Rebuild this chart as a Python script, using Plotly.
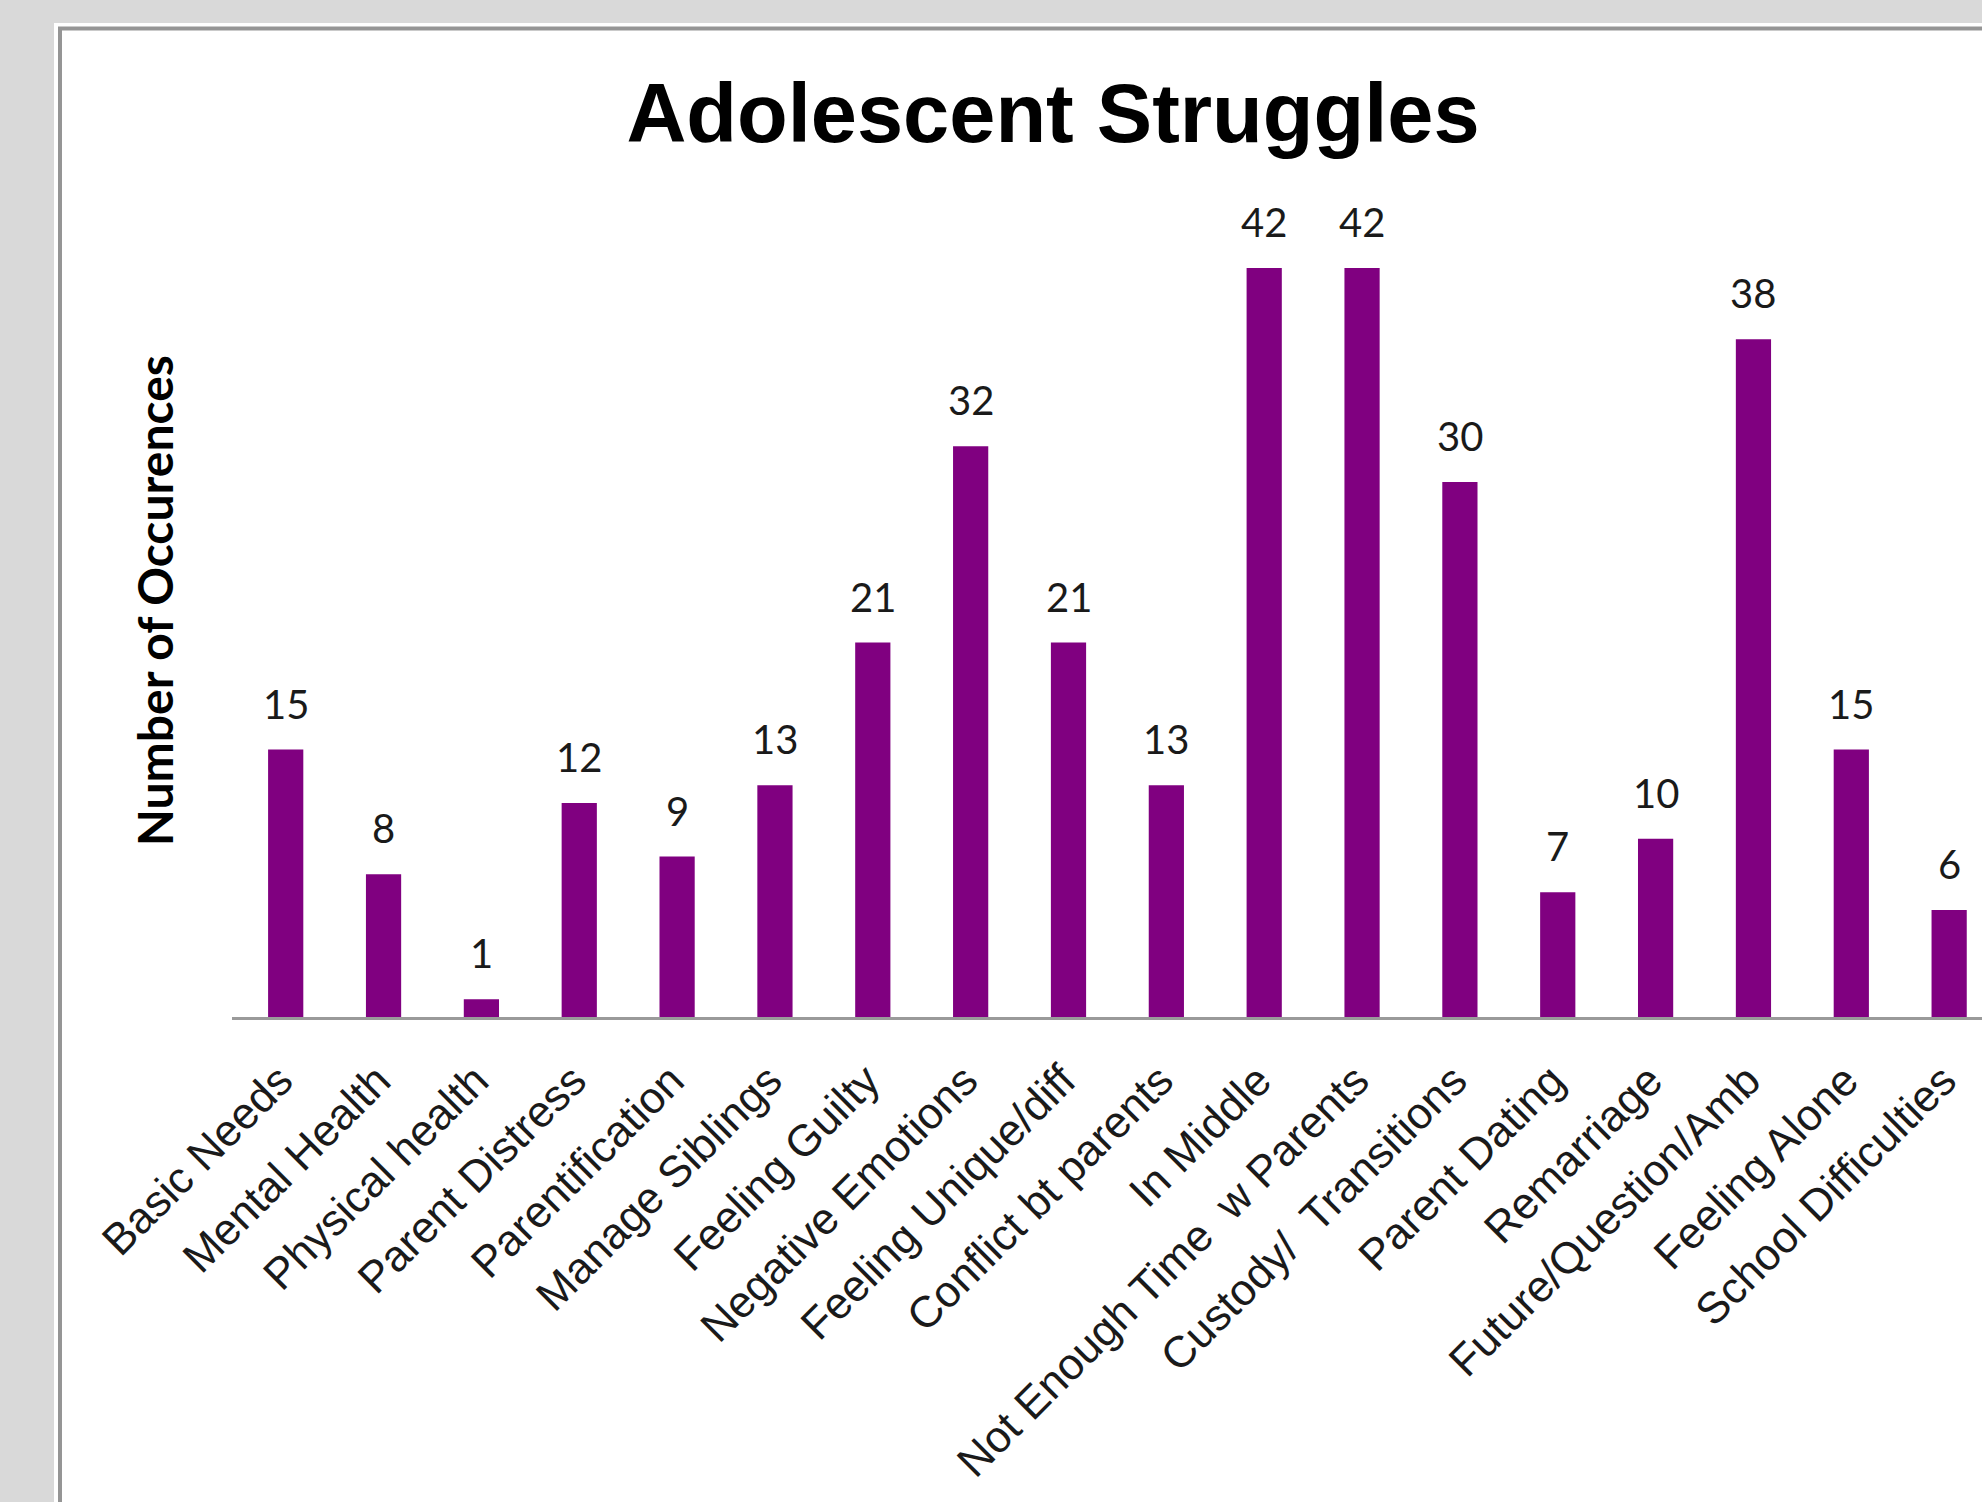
import plotly.graph_objects as go

categories = [
    "Basic Needs", "Mental Health", "Physical health", "Parent Distress",
    "Parentification", "Manage Siblings", "Feeling Guilty", "Negative Emotions",
    "Feeling Unique/diff", "Conflict bt parents", "In Middle",
    "Not Enough Time  w Parents", "Custody/  Transitions", "Parent Dating",
    "Remarriage", "Future/Question/Amb", "Feeling Alone", "School Difficulties",
]
occurrences = [15, 8, 1, 12, 9, 13, 21, 32, 21, 13, 42, 42, 30, 7, 10, 38, 15, 6]

title_text = "Adolescent Struggles"
y_title_text = "Number of Occurences"

W, H = 1982, 1502
L, R, T, B = 232, 0, 161, 485
PW = W - L - R
PH = H - T - B

def px_x(X):
    return (X - L) / PW

def px_y(Y):
    return (H - B - Y) / PH

fig = go.Figure()
fig.add_trace(go.Bar(
    x=list(range(len(categories))),
    y=occurrences,
    width=0.36,
    marker=dict(color="#800080", line=dict(width=0)),
    hoverinfo="skip",
))

annotations = []
for i, v in enumerate(occurrences):
    annotations.append(dict(
        x=i, y=v, xref="x", yref="y", text=str(v), showarrow=False,
        xanchor="center", yanchor="middle", yshift=46,
        font=dict(family="Lato", size=40, color="#1a1a1a"),
    ))
annotations.append(dict(
    x=px_x(154), y=px_y(601), xref="paper", yref="paper",
    text="<b>" + y_title_text + "</b>", showarrow=False, textangle=-90,
    xanchor="center", yanchor="middle",
    font=dict(family="Lato", size=48, color="#000000"),
))

shapes = [
    dict(type="rect", xref="paper", yref="paper", layer="below",
         x0=px_x(54), y0=px_y(23), x1=1.2, y1=px_y(1600),
         fillcolor="white", line=dict(width=0)),
    dict(type="rect", xref="paper", yref="paper", layer="below",
         x0=px_x(60), y0=px_y(28.5), x1=1.2, y1=px_y(1600),
         fillcolor="rgba(0,0,0,0)", line=dict(color="#959595", width=4)),
]

fig.update_layout(
    width=W, height=H,
    margin=dict(l=L, r=R, t=T, b=B, pad=0),
    paper_bgcolor="#d9d9d9",
    plot_bgcolor="rgba(0,0,0,0)",
    showlegend=False,
    title=dict(
        text="<b>" + title_text + "</b>",
        x=1053 / W, y=1 - 113 / H, xref="container", yref="container",
        xanchor="center", yanchor="middle",
        font=dict(family="Liberation Sans, Arial", size=83, color="#000000"),
    ),
    xaxis=dict(
        tickmode="array",
        tickvals=list(range(len(categories))),
        ticktext=categories,
        range=[(L - 285.7) / 97.85, (W - 285.7) / 97.85],
        tickangle=-45,
        ticks="",
        ticklabelstandoff=17,
        ticklabelshift=-6,
        showgrid=False, zeroline=False,
        showline=True, linecolor="#9a9a9a", linewidth=3,
        tickfont=dict(family="Liberation Sans, Arial", size=44, color="#1a1a1a"),
    ),
    yaxis=dict(
        range=[0, 48], visible=False, showgrid=False, zeroline=False,
    ),
    annotations=annotations,
    shapes=shapes,
)

fig.write_html("out.html")
